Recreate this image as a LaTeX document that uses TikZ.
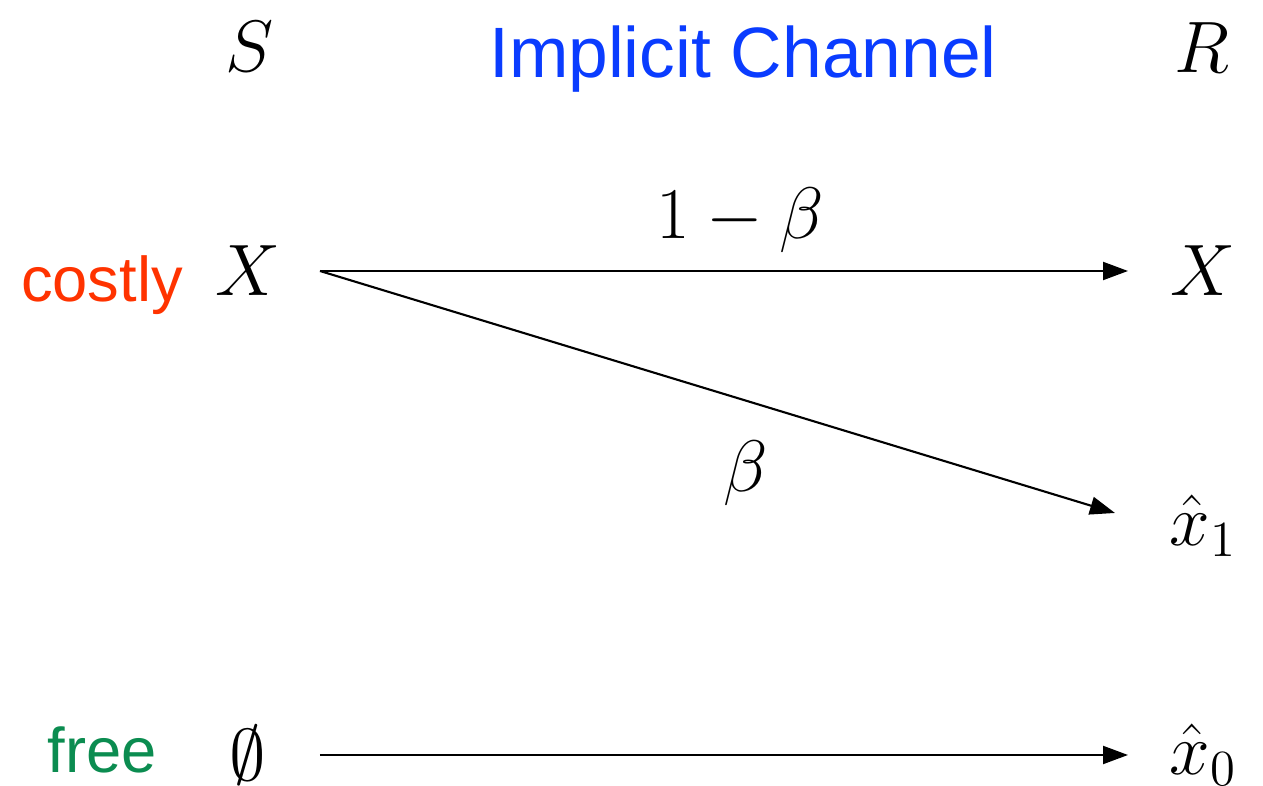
\documentclass[tikz,border=0pt]{standalone}
\usepackage{fontspec}
\setsansfont{Liberation Sans}
\usepackage{xcolor}
\definecolor{costred}{HTML}{FF3300}
\definecolor{chanblue}{HTML}{0A3CFF}
\definecolor{freegreen}{HTML}{0B8C50}
\usetikzlibrary{arrows.meta,positioning}

\begin{document}
\begin{tikzpicture}[
    every node/.style={inner sep=0pt, outer sep=0pt},
    sym/.style={font=\fontsize{22}{26}\selectfont},
    src_sym/.style={sym, minimum width=1.44cm},
    dst_sym/.style={sym, minimum width=1.5cm},
    tag/.style={font=\sffamily\fontsize{18}{22}\selectfont},
    flow/.style={-{Triangle[length=2.5mm, width=1.8mm]}, line width=0.6pt}
]
  \useasboundingbox (0,0) rectangle (12.63,-7.86);

  % Header
  \node[sym] (sender) at (2.50,-0.47) {$S$};
  \node[sym] (receiver) at (12.02,-0.48) {$R$};
  \node[font=\sffamily\fontsize{20.3}{24}\selectfont, text=chanblue, anchor=base] (title) at (7.43,-0.78) {Implicit Channel};

  % Sender side
  \node[src_sym] (src_x) at (2.48,-2.71) {$X$};
  \node[src_sym] (src_empty) at (2.48,-7.55) {$\emptyset$};
  \node[tag, text=costred, anchor=base] (costly) at (1.02,-3.02) {costly};
  \node[tag, text=freegreen, anchor=base] (free) at (1.02,-7.73) {free};

  % Receiver side
  \node[dst_sym] (dst_x) at (12.03,-2.71) {$X$};
  \node[dst_sym] (xhat_one) at (12.03,-5.26) {$\hat{x}_1$};
  \node[dst_sym] (xhat_zero) at (12.03,-7.55) {$\hat{x}_0$};

  % Channel arrows
  \draw[flow] (src_x.east) -- node[sym, pos=0.52, above=0.18cm]{$1-\beta$} (dst_x.west);
  \draw[flow] (src_x.east) -- node[sym, pos=0.536, below=0.4cm]{$\beta$} ([shift={(-0.13,0.13)}]xhat_one.west);
  \draw[flow] (src_empty.east) -- (xhat_zero.west);

\end{tikzpicture}
\end{document}
